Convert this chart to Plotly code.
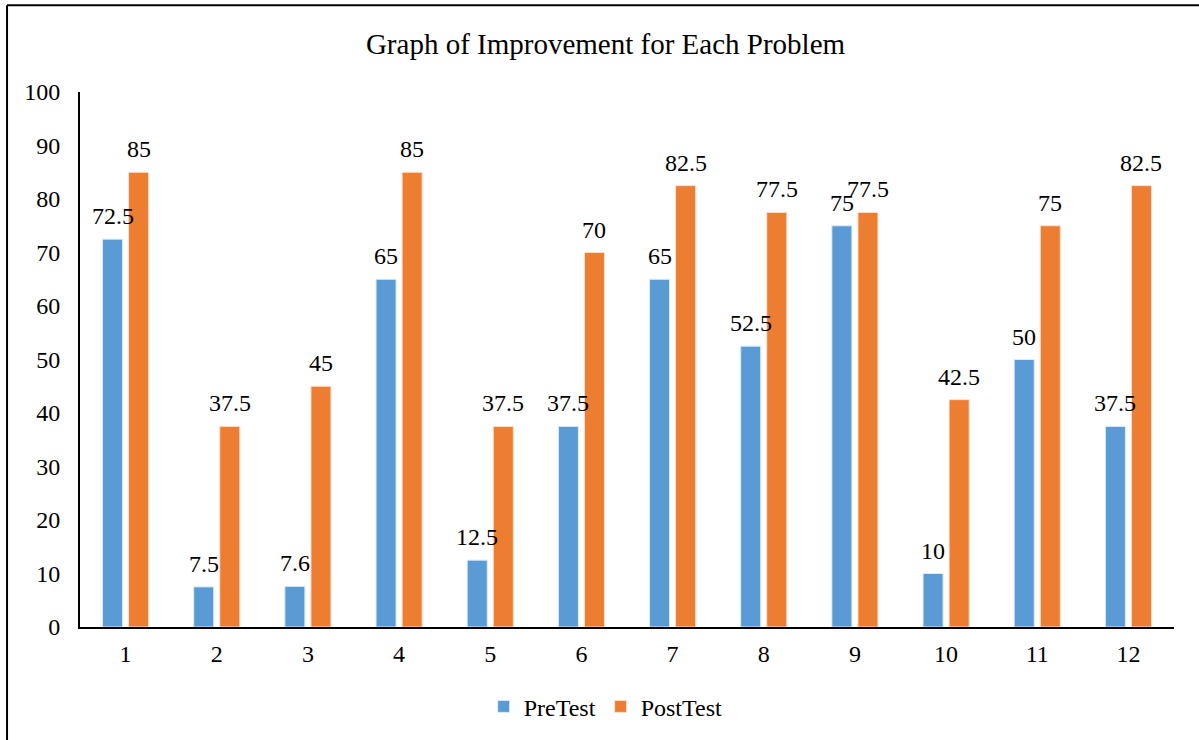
import plotly.graph_objects as go

problems = [1, 2, 3, 4, 5, 6, 7, 8, 9, 10, 11, 12]
pretest = [72.5, 7.5, 7.6, 65, 12.5, 37.5, 65, 52.5, 75, 10, 50, 37.5]
posttest = [85, 37.5, 45, 85, 37.5, 70, 82.5, 77.5, 77.5, 42.5, 75, 82.5]
y_ticks = [0, 10, 20, 30, 40, 50, 60, 70, 80, 90, 100]

BLUE = "#5B9BD5"
ORANGE = "#ED7D31"
FONT = "Liberation Serif"
OFF = 0.143
W = 0.22

fig = go.Figure()
fig.add_trace(go.Bar(x=[p - OFF for p in problems], y=pretest, width=W, name="PreTest",
                     marker=dict(color=BLUE, line=dict(color="#DDEBF7", width=1))))
fig.add_trace(go.Bar(x=[p + OFF for p in problems], y=posttest, width=W, name="PostTest",
                     marker=dict(color=ORANGE, line=dict(color="#FBE0CF", width=1))))

annotations = []
for p, a, b in zip(problems, pretest, posttest):
    for xv, yv in ((p - OFF, a), (p + OFF, b)):
        annotations.append(dict(x=xv, y=yv, xref="x", yref="y", text=f"{yv:g}",
                                showarrow=False, yanchor="bottom", yshift=8,
                                font=dict(family=FONT, size=24, color="#000000")))

fig.update_layout(
    width=1199, height=740,
    margin=dict(l=80, r=25, t=92, b=112),
    paper_bgcolor="white", plot_bgcolor="white",
    barmode="overlay",
    title=dict(text="Graph of Improvement for Each Problem", x=0.505, xanchor="center",
               y=1 - 44 / 740, yanchor="middle",
               font=dict(family=FONT, size=29, color="#000000")),
    font=dict(family=FONT, size=24, color="#000000"),
    showlegend=True,
    legend=dict(orientation="h", x=0.4805, xanchor="center", y=-0.147, yanchor="middle",
                font=dict(family=FONT, size=24, color="#000000"), itemwidth=30,
                traceorder="normal"),
    annotations=annotations,
    shapes=[
        dict(type="line", xref="paper", yref="paper", x0=-0.0667, x1=1.1, y0=1.1623, y1=1.1623,
             line=dict(color="#000000", width=2)),
        dict(type="line", xref="paper", yref="paper", x0=-0.0667, x1=-0.0667, y0=1.1623, y1=-0.3,
             line=dict(color="#000000", width=2)),
    ],
)
fig.update_xaxes(range=[0.5, 12.5], tickmode="array", tickvals=problems,
                 ticktext=[str(p) for p in problems], showgrid=False, zeroline=False,
                 showline=True, linecolor="#000000", linewidth=2,
                 ticks="outside", ticklen=4, tickcolor="rgba(0,0,0,0)",
                 tickfont=dict(family=FONT, size=24, color="#000000"))
fig.update_yaxes(range=[0, 100], tickmode="array", tickvals=y_ticks, showgrid=False,
                 zeroline=False, showline=True, linecolor="#000000", linewidth=2,
                 ticks="outside", ticklen=13, tickcolor="rgba(0,0,0,0)",
                 tickfont=dict(family=FONT, size=24, color="#000000"))

fig.write_html("out.html", config={"displayModeBar": False},
               post_script="document.body.style.margin='0px';")
